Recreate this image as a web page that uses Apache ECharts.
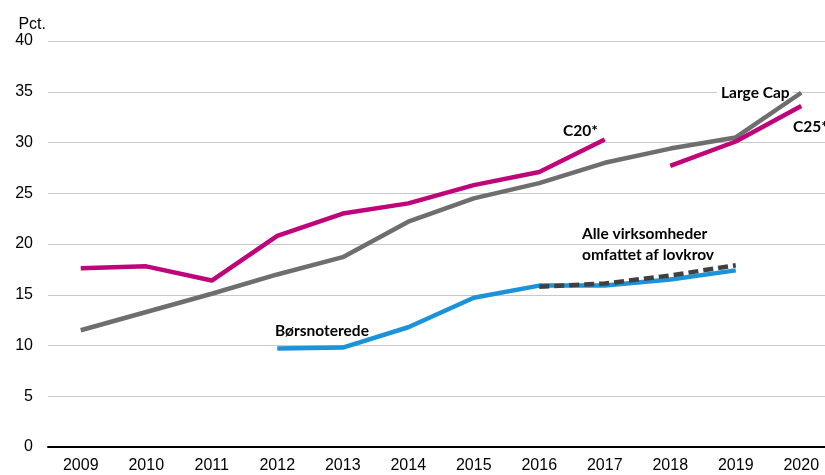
<!DOCTYPE html>
<html>
<head>
<meta charset="utf-8">
<script src="https://cdn.jsdelivr.net/npm/echarts@6/dist/echarts.min.js"></script>
<style>
  html, body { margin: 0; padding: 0; background: #fff; overflow: hidden; }
  #main { width: 834px; height: 475px; }
</style>
</head>
<body>
<div id="main"></div>
<script>
// årstal
var years = ['2009', '2010', '2011', '2012', '2013', '2014', '2015', '2016', '2017', '2018', '2019', '2020'];
// Large Cap
var largeCap = [11.5, 13.3, 15.1, 17.0, 18.7, 22.2, 24.5, 26.0, 28.0, 29.4, 30.5, 34.9];
// C20* (til og med 2017) og C25* (fra 2018)
var c20 = [17.6, 17.8, 16.4, 20.8, 23.0, 24.0, 25.8, 27.1, 30.3, null, null, null];
var c25 = [null, null, null, null, null, null, null, null, null, 27.7, 30.1, 33.6];
// Børsnoterede
var boers = [null, null, null, 9.7, 9.8, 11.8, 14.7, 15.9, 15.9, 16.5, 17.4, null];
// Alle virksomheder omfattet af lovkrov
var alle = [null, null, null, null, null, null, null, 15.8, 16.1, 16.9, 17.9, null];

var labelFont = 'bold 15.5px Lato, "Open Sans", sans-serif';
var axisFont = '"Liberation Sans", Arial, sans-serif';

var myChart = echarts.init(document.getElementById('main'));

var option = {
    backgroundColor: '#fff',
    animation: false,
    grid: { left: 48, right: 0, top: 41, bottom: 28 },
    xAxis: {
        type: 'category',
        data: years,
        boundaryGap: true,
        axisLine: { show: true, lineStyle: { color: '#000', width: 2 } },
        axisTick: { show: false },
        axisLabel: { color: '#000', fontSize: 16, fontFamily: axisFont, margin: 11 }
    },
    yAxis: {
        type: 'value',
        min: 0,
        max: 40,
        interval: 5,
        name: 'Pct.',
        nameLocation: 'end',
        nameGap: 8,
        nameTextStyle: { color: '#000', fontSize: 16, fontFamily: axisFont, align: 'right', padding: [0, 2, 0, 0] },
        axisLine: { show: false },
        axisTick: { show: false },
        axisLabel: { color: '#000', fontSize: 16, fontFamily: axisFont, margin: 15 },
        splitLine: { lineStyle: { color: '#c8c8c8', width: 1 } }
    },
    series: [
        {
            name: 'Large Cap', type: 'line', data: largeCap, symbol: 'none', z: 3,
            lineStyle: { color: '#6e6e6e', width: 4.5 }
        },
        {
            name: 'C20*', type: 'line', data: c20, symbol: 'none', connectNulls: false, z: 3,
            lineStyle: { color: '#c0047a', width: 4.5 }
        },
        {
            name: 'C25*', type: 'line', data: c25, symbol: 'none', connectNulls: false, z: 3,
            lineStyle: { color: '#c0047a', width: 4.5 }
        },
        {
            name: 'Børsnoterede', type: 'line', data: boers, symbol: 'none', z: 3,
            lineStyle: { color: '#1a93d8', width: 4.5 }
        },
        {
            name: 'Alle virksomheder omfattet af lovkrov', type: 'line', data: alle, symbol: 'none', z: 3,
            lineStyle: { color: '#404040', width: 4.5, type: [10, 5] }
        }
    ],
    graphic: [
        { type: 'text', x: 717, y: 93, z: 1, style: { text: 'Large Cap', font: labelFont, fill: '#000', verticalAlign: 'middle', backgroundColor: '#fff', padding: [0, 3, 0, 4] } },
        { type: 'text', x: 563, y: 131, style: { text: 'C20*', font: labelFont, fill: '#000', verticalAlign: 'middle' } },
        { type: 'text', x: 793, y: 127, style: { text: 'C25*', font: labelFont, fill: '#000', verticalAlign: 'middle' } },
        { type: 'text', x: 582, y: 234, style: { text: 'Alle virksomheder', font: labelFont, fill: '#000', verticalAlign: 'middle' } },
        { type: 'text', x: 582, y: 255, style: { text: 'omfattet af lovkrov', font: labelFont, fill: '#000', verticalAlign: 'middle' } },
        { type: 'text', x: 275, y: 331, style: { text: 'Børsnoterede', font: labelFont, fill: '#000', verticalAlign: 'middle' } }
    ]
};

myChart.setOption(option);
</script>
</body>
</html>
